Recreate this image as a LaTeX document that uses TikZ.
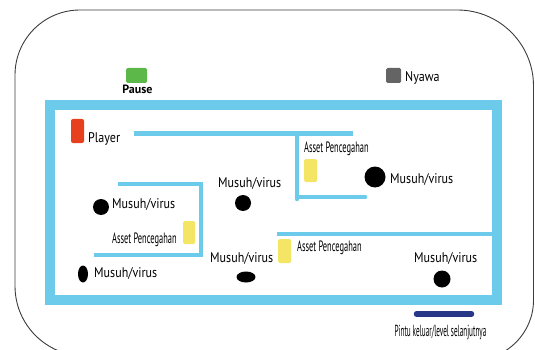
\documentclass[tikz,border=0pt]{standalone}
\usepackage{fontspec}
\usetikzlibrary{shapes.geometric}
\setmainfont{PT Sans}
% horizontal squeeze for the condensed captions
\newcommand\hsqueeze[2]{\scalebox{#1}[1]{#2}}
\definecolor{wallblue}{RGB}{108,202,234}
\definecolor{playerred}{RGB}{230,64,30}
\definecolor{pausegreen}{RGB}{92,184,72}
\definecolor{lifegray}{RGB}{100,100,100}
\definecolor{assetyellow}{RGB}{244,230,100}
\definecolor{doornavy}{RGB}{40,55,135}
\definecolor{framegray}{RGB}{60,60,60}
\begin{document}
\begin{tikzpicture}[x=1pt,y=-1pt,
  lbl/.style={inner sep=0pt,anchor=base west,font=\fontsize{14}{14}\selectfont},
  assetlbl/.style={inner sep=0pt,anchor=base west,font=\fontsize{15}{15}\selectfont},
  outerwall/.style={draw=wallblue,line width=10pt},
  innerwall/.style={draw=wallblue,line width=4.6pt},
  enemy/.style={fill=black,draw=none,inner sep=0pt},
  asset/.style={fill=assetyellow,draw=none,rounded corners=1.5pt,inner sep=0pt},
]
\useasboundingbox (0,0) rectangle (535,350);

% screen frame (y axis points down, so angles run clockwise on screen)
\draw[framegray,line width=0.9pt]
  (15,286) -- (15,75) arc[start angle=180,end angle=270,radius=65]
  -- (457.5,10) arc[start angle=270,end angle=360,radius=76]
  -- (533.5,300) arc[start angle=0,end angle=90,radius=60]
  -- (85,356) arc[start angle=90,end angle=180,radius=70];

% HUD
\node[fill=pausegreen,rounded corners=1.5pt,minimum width=21pt,minimum height=15pt,inner sep=0pt] (pausebtn) at (136.5,75.5) {};
\node[inner sep=0pt,anchor=base,font=\fontsize{12}{12}\selectfont\bfseries] (pauselbl) at (137.5,94) {Pause};
\node[fill=lifegray,rounded corners=1.5pt,minimum width=15pt,minimum height=15pt,inner sep=0pt] (lifebox) at (393.5,75.5) {};
\node[lbl] (lifelbl) at (405,82) {\hsqueeze{0.86}{Nyawa}};

% maze border
\draw[outerwall] (50,105) rectangle (497,299.5);

% inner walls
\coordinate (w1a) at (134,133.5);
\coordinate (w1b) at (353,133.5);
\coordinate (w1c) at (297,133.5);
\coordinate (w1d) at (297,199);
\coordinate (w1e) at (297,197);
\coordinate (w1f) at (365,197);
\draw[innerwall] (w1a) -- (w1b);
\draw[innerwall,line cap=round] (w1c) -- (w1d);
\draw[innerwall,line cap=round] (w1e) -- (w1f);

\coordinate (w2a) at (118,184);
\coordinate (w2b) at (201,184);
\coordinate (w2c) at (201,255);
\coordinate (w2d) at (94,255);
\draw[innerwall] (w2a) -- (w2b) -- (w2c) -- (w2d);

\coordinate (w3a) at (277,234);
\coordinate (w3b) at (497,234);
\draw[innerwall] (w3a) -- (w3b);

% player
\node[fill=playerred,rounded corners=2pt,minimum width=13pt,minimum height=24pt,inner sep=0pt] (player) at (77.5,131) {};
\node[lbl] (playerlbl) at (88,142.5) {\hsqueeze{0.86}{Player}};

% preventive assets
\node[asset,minimum width=13pt,minimum height=23pt] (asset1) at (310.5,170.5) {};
\node[assetlbl] (asset1lbl) at (304,152) {\hsqueeze{0.56}{Asset Pencegahan}};
\node[asset,minimum width=12pt,minimum height=23pt] (asset2) at (189,232.5) {};
\node[assetlbl] (asset2lbl) at (112,243) {\hsqueeze{0.56}{Asset Pencegahan}};
\node[asset,minimum width=13pt,minimum height=24pt] (asset3) at (284.5,251) {};
\node[assetlbl] (asset3lbl) at (297,251) {\hsqueeze{0.56}{Asset Pencegahan}};

% enemies
\node[enemy,circle,minimum size=21pt] (enemy1) at (375,177) {};
\node[lbl] (enemy1lbl) at (390,183) {\hsqueeze{0.86}{Musuh/virus}};
\node[enemy,circle,minimum size=16pt] (enemy2) at (243,203) {};
\node[lbl] (enemy2lbl) at (218,187) {\hsqueeze{0.86}{Musuh/virus}};
\node[enemy,circle,minimum size=16pt] (enemy3) at (101,207) {};
\node[lbl] (enemy3lbl) at (112,208) {\hsqueeze{0.86}{Musuh/virus}};
\node[enemy,ellipse,minimum width=10pt,minimum height=17pt] (enemy4) at (83,274) {};
\node[lbl] (enemy4lbl) at (94,277.5) {\hsqueeze{0.86}{Musuh/virus}};
\node[enemy,ellipse,minimum width=19pt,minimum height=11pt] (enemy5) at (246,277) {};
\node[lbl] (enemy5lbl) at (210,262.5) {\hsqueeze{0.86}{Musuh/virus}};
\node[enemy,circle,minimum size=17pt] (enemy6) at (442,279) {};
\node[lbl] (enemy6lbl) at (414,262.5) {\hsqueeze{0.86}{Musuh/virus}};

% exit door
\coordinate (doorL) at (416.5,314);
\coordinate (doorR) at (471.5,314);
\draw[doornavy,line width=5.5pt,line cap=round] (doorL) -- (doorR);
\node[inner sep=0pt,anchor=base,font=\fontsize{16}{16}\selectfont] (doorlbl) at (440.5,336) {\hsqueeze{0.45}{Pintu keluar/level selanjutnya}};
\end{tikzpicture}
\end{document}
